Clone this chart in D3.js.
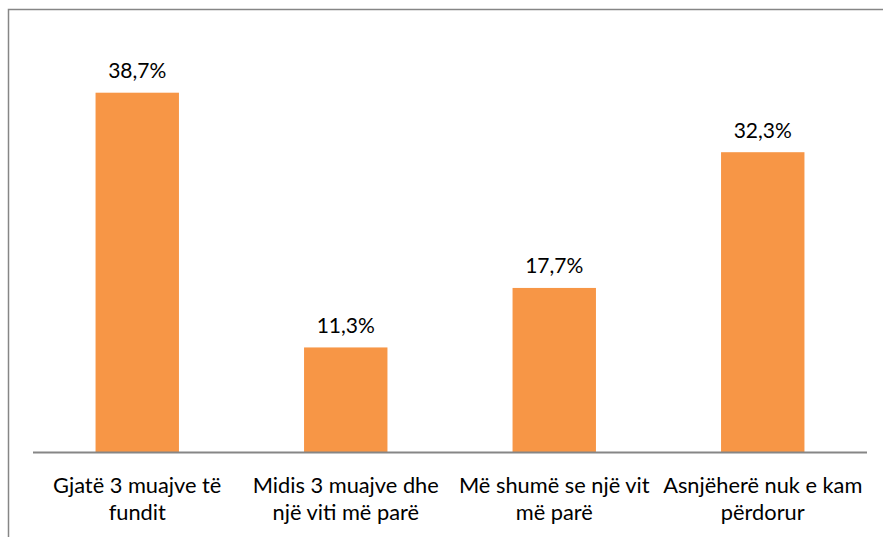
<!DOCTYPE html>
<html><head><meta charset="utf-8">
<script src="https://cdn.jsdelivr.net/npm/d3@7"></script>
<style>body{margin:0;background:#fff}svg{display:block}</style>
</head><body>
<script>
const categories = [["Gjatë 3 muajve të","fundit"],["Midis 3 muajve dhe","një viti më parë"],["Më shumë se një vit","më parë"],["Asnjëherë nuk e kam","përdorur"]];
const values = [38.7, 11.3, 17.7, 32.3];
const valueLabels = ["38,7%","11,3%","17,7%","32,3%"];

const W = 883, H = 537;
const svg = d3.select("body").append("svg").attr("width", W).attr("height", H);
svg.append("rect").attr("width", W).attr("height", H).attr("fill", "#fff");
// chart border (left & top visible)
svg.append("path").attr("d", `M8.5,${H} L8.5,9.5 L${W},9.5`).attr("fill","none").attr("stroke","#868686").attr("stroke-width",1.5);

const x0 = 33, x1 = 867, base = 452.5;
const x = d3.scaleBand().domain(d3.range(values.length)).range([x0, x1]).paddingInner(0.6).paddingOuter(0.3);
const y = d3.scaleLinear().domain([0, 38.7]).range([base, 92.7]);

svg.selectAll("rect.bar").data(values).join("rect").attr("class","bar")
  .attr("x", (d,i)=>x(i)).attr("width", x.bandwidth())
  .attr("y", d=>y(d)).attr("height", d=>base - y(d)).attr("fill", "#F79646");

svg.append("line").attr("x1", x0).attr("x2", x1).attr("y1", base).attr("y2", base)
  .attr("stroke","#868686").attr("stroke-width",2);

const font = "Lato, 'Open Sans', sans-serif";
svg.selectAll("text.val").data(values).join("text").attr("class","val")
  .attr("x",(d,i)=>x(i)+x.bandwidth()/2).attr("y", d=>y(d)-14.5)
  .attr("text-anchor","middle").attr("font-family",font).attr("font-size",21).attr("fill","#000")
  .text((d,i)=>valueLabels[i]);

const g = svg.selectAll("text.cat").data(categories).join("text").attr("class","cat")
  .attr("text-anchor","middle").attr("font-family",font).attr("font-size",21.8).attr("fill","#000");
g.each(function(lines,i){
  const t = d3.select(this);
  lines.forEach((l,k)=>t.append("tspan").attr("x", x(i)+x.bandwidth()/2).attr("y", 493 + k*27).text(l));
});
</script>
</body></html>
